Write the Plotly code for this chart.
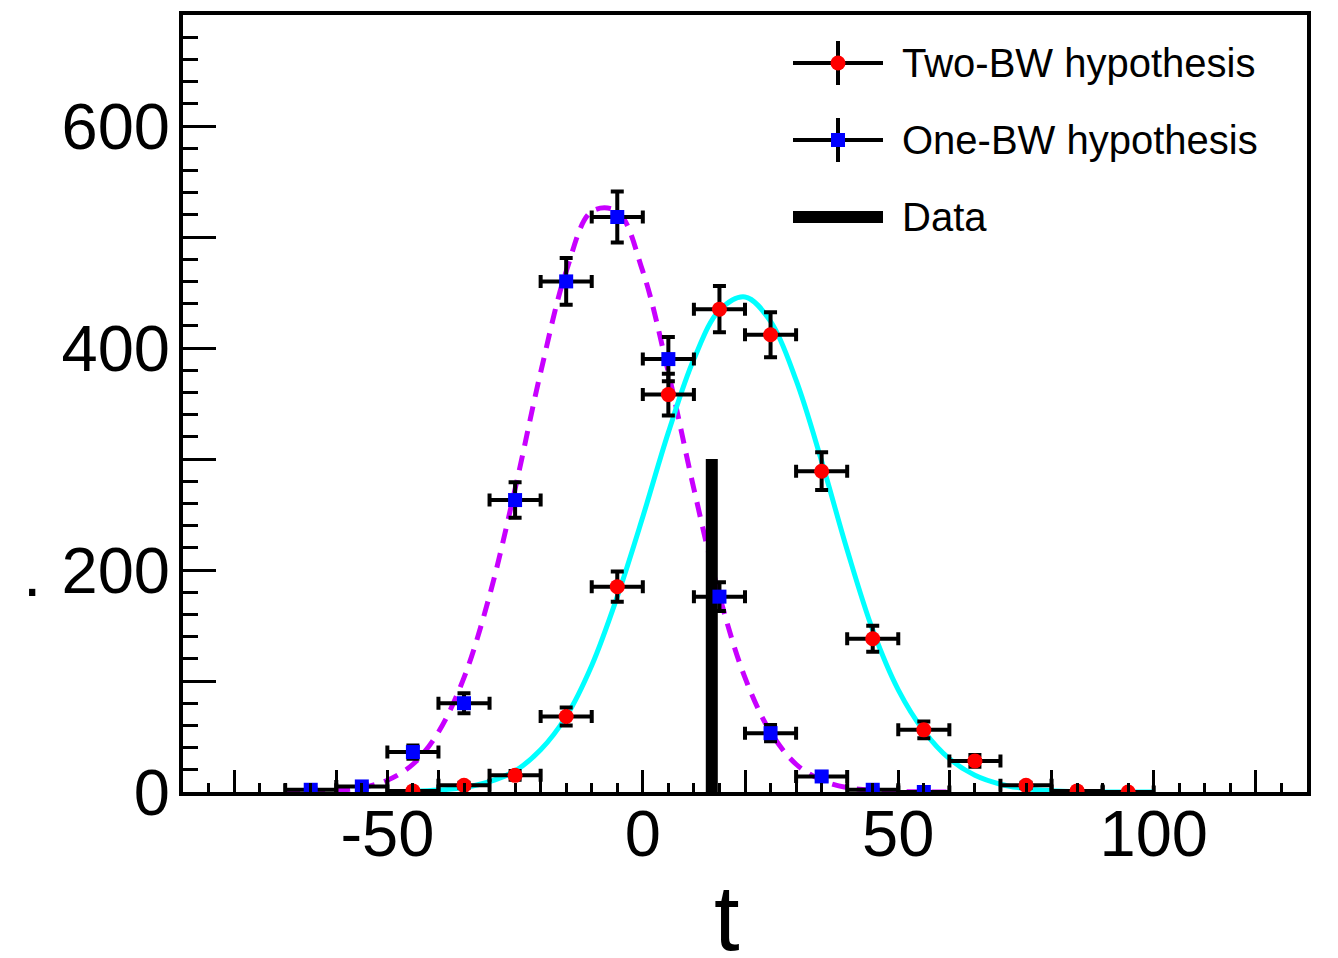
import plotly.graph_objects as go

# ---------------- data ----------------
two_bw_x = [-45, -35, -25, -15, -5, 5, 15, 25, 35, 45, 55, 65, 75, 85, 95]
two_bw_y = [1, 6, 15, 68, 185, 358, 435, 412, 289, 138, 56, 28, 6, 1, 0]
two_bw_err = [1, 2.4, 3.9, 8.2, 13.6, 18.9, 20.9, 20.3, 17, 11.7, 7.5, 5.3, 2.4, 1, 0]

one_bw_x = [-65, -55, -45, -35, -25, -15, -5, 5, 15, 25, 35, 45, 55]
one_bw_y = [2, 5, 36, 80, 263, 460, 518, 390, 176, 53, 14, 2, 0]
one_bw_err = [1.4, 2.2, 6, 9, 16, 21, 23, 20, 13, 7.3, 3.7, 1.4, 0]

bin_half_width = 5

one_curve_x = [-70, -65, -60, -55, -50, -45, -40, -35, -30, -25, -20, -15, -10, -5,
               0, 5, 10, 15, 20, 25, 30, 35, 40, 45, 50, 55, 60]
one_curve_y = [0.1, 0.4, 1.4, 4.0, 10.6, 25, 54, 103, 177, 273, 378, 469, 523, 523,
               469, 378, 273, 177, 103, 54, 25, 10.6, 4.0, 1.4, 0.4, 0.1, 0.0]

two_curve_x = [-50, -45, -40, -35, -30, -25, -20, -15, -10, -5, 0, 5, 10, 15, 20, 25,
               30, 35, 40, 45, 50, 55, 60, 65, 70, 75, 80, 85, 90, 95, 100]
two_curve_y = [0.2, 0.6, 1.7, 4.1, 9.4, 19, 38, 68, 114, 176, 248, 324, 390, 434, 446, 424,
               371, 298, 218, 146, 92, 55, 30, 15, 7, 3, 1.2, 0.4, 0.1, 0, 0]

data_x = 13.5
data_y = 300

x_range = [-90, 130]
y_range = [0, 700]
x_label_vals = [-50, 0, 50, 100]
x_major_vals = [-80, -60, -50, -40, -20, 0, 20, 40, 50, 60, 80, 100, 120]
y_label_vals = [0, 200, 400, 600]
y_major_vals = [0, 100, 200, 300, 400, 500, 600, 700]

legend_labels = ["Two-BW hypothesis", "One-BW hypothesis", "Data"]
x_title = "t"
y_title = "."

# ---------------- figure ----------------
W, H = 1338, 958
L, R, T, B = 183, 1307, 15, 792  # plot area in pixels

FONT = "Liberation Sans, Arial, Helvetica, sans-serif"

fig = go.Figure()

fig.add_trace(go.Scatter(x=one_curve_x, y=one_curve_y, mode="lines", line_shape="spline",
                         line=dict(color="#c800ff", width=5, dash="15px,10px"),
                         hoverinfo="skip"))
fig.add_trace(go.Scatter(x=two_curve_x, y=two_curve_y, mode="lines", line_shape="spline",
                         line=dict(color="#00ffff", width=5), hoverinfo="skip"))

fig.add_trace(go.Scatter(x=[data_x, data_x], y=[0, data_y], mode="lines",
                         line=dict(color="black", width=12), hoverinfo="skip"))

eb = dict(color="black", thickness=4, width=6.5)
fig.add_trace(go.Scatter(
    x=two_bw_x, y=two_bw_y, mode="markers",
    marker=dict(symbol="circle", size=15, color="#ff0000"),
    error_x=dict(type="constant", value=bin_half_width, **eb),
    error_y=dict(type="data", array=two_bw_err, **eb),
))
fig.add_trace(go.Scatter(
    x=one_bw_x, y=one_bw_y, mode="markers",
    marker=dict(symbol="square", size=14, color="#0000ff"),
    error_x=dict(type="constant", value=bin_half_width, **eb),
    error_y=dict(type="data", array=one_bw_err, **eb),
))

# ---------------- legend (drawn on a pixel-coordinate overlay) ----------------
def py(y):
    return H - y

def paper_x(px):
    return (px - L) / (R - L)

def paper_y(pyy):
    return (B - pyy) / (B - T)

leg_x = 838
leg_half = 45
leg_rows = [63, 140, 217]
fig.add_trace(go.Scatter(
    x=[leg_x], y=[py(leg_rows[0])], xaxis="x2", yaxis="y2", mode="markers",
    marker=dict(symbol="circle", size=15, color="#ff0000"),
    error_x=dict(type="constant", value=leg_half, color="black", thickness=4, width=0),
    error_y=dict(type="constant", value=22, color="black", thickness=4, width=0),
    hoverinfo="skip"))
fig.add_trace(go.Scatter(
    x=[leg_x], y=[py(leg_rows[1])], xaxis="x2", yaxis="y2", mode="markers",
    marker=dict(symbol="square", size=14, color="#0000ff"),
    error_x=dict(type="constant", value=leg_half, color="black", thickness=4, width=0),
    error_y=dict(type="constant", value=22, color="black", thickness=4, width=0),
    hoverinfo="skip"))
fig.add_trace(go.Scatter(
    x=[leg_x - leg_half, leg_x + leg_half], y=[py(leg_rows[2])] * 2,
    xaxis="x2", yaxis="y2", mode="lines",
    line=dict(color="black", width=12), hoverinfo="skip"))

annotations = []
for lab, yy in zip(legend_labels, leg_rows):
    annotations.append(dict(text=lab, x=paper_x(900), y=paper_y(yy), xref="paper", yref="paper",
                            xanchor="left", yanchor="middle", showarrow=False,
                            font=dict(family=FONT, size=40, color="black")))
annotations.append(dict(text=x_title, x=paper_x(727), y=paper_y(918), xref="paper", yref="paper",
                        xanchor="center", yanchor="middle", showarrow=False,
                        font=dict(family=FONT, size=92, color="black")))
annotations.append(dict(text=y_title, x=paper_x(32), y=paper_y(573), xref="paper", yref="paper",
                        xanchor="center", yanchor="middle", showarrow=False,
                        font=dict(family=FONT, size=66, color="black")))

x_ticktext = [str(v) if v in x_label_vals else "" for v in x_major_vals]
y_ticktext = [str(v) if v in y_label_vals else "" for v in y_major_vals]
x_minor = [v for v in range(-85, 130, 5) if v not in x_major_vals]
y_minor = [v for v in range(0, 701, 20) if v not in y_major_vals]

fig.update_layout(
    width=W, height=H,
    margin=dict(l=L, r=W - R, t=T, b=H - B, pad=0),
    paper_bgcolor="white", plot_bgcolor="white",
    showlegend=False,
    annotations=annotations,
    xaxis=dict(range=x_range, tickmode="array", tickvals=x_major_vals, ticktext=x_ticktext,
               ticks="inside", ticklen=22, tickwidth=3, tickcolor="black",
               minor=dict(tickmode="array", tickvals=x_minor, ticks="inside", ticklen=9,
                          tickwidth=3, tickcolor="black", showgrid=False),
               showline=True, linewidth=4, linecolor="black", mirror=True,
               showgrid=False, zeroline=False, ticklabelstandoff=-18,
               tickfont=dict(family=FONT, size=65, color="black")),
    yaxis=dict(range=y_range, tickmode="array", tickvals=y_major_vals, ticktext=y_ticktext,
               ticks="inside", ticklen=33, tickwidth=3, tickcolor="black",
               minor=dict(tickmode="array", tickvals=y_minor, ticks="inside", ticklen=15,
                          tickwidth=3, tickcolor="black", showgrid=False),
               showline=True, linewidth=4, linecolor="black", mirror=True,
               showgrid=False, zeroline=False, ticklabelstandoff=-4,
               tickfont=dict(family=FONT, size=65, color="black")),
    xaxis2=dict(overlaying="x", range=[L, R], visible=False, anchor="y2"),
    yaxis2=dict(overlaying="y", range=[H - B, H - T], visible=False, anchor="x2"),
)

fig.write_html("out.html")
